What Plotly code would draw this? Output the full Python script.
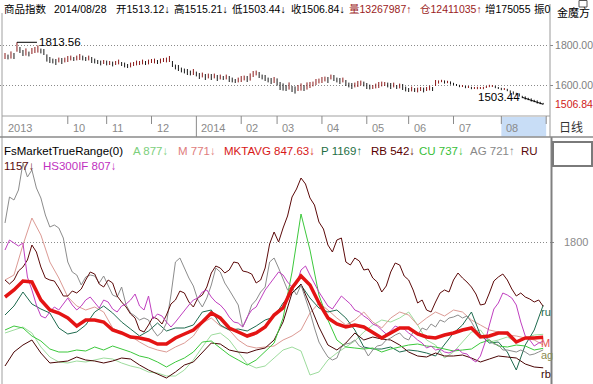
import plotly.graph_objects as go

W, H = 593, 384
FONT = "Liberation Sans, Noto Sans CJK SC, sans-serif"

# ---------------- data ----------------
month_labels = ["2013", "10", "11", "12", "2014", "02", "03", "04", "05", "06", "07", "08"]
month_start = [0, 21, 34, 49, 64, 79, 91, 106, 121, 135, 150, 166]

price_mid = [
    1745, 1740, 1750, 1745, 1790, 1775, 1760, 1765, 1755, 1770,
    1775, 1780, 1770, 1765, 1735, 1725, 1720, 1715, 1725, 1720,
    1725, 1730, 1735, 1730, 1735, 1740, 1735, 1730, 1735, 1725,
    1720, 1715, 1710, 1715, 1710, 1710, 1705, 1710, 1715, 1705,
    1700, 1695, 1700, 1705, 1710, 1710, 1715, 1710, 1715, 1720,
    1720, 1715, 1720, 1725, 1725, 1730, 1705, 1690, 1685, 1675,
    1670, 1665, 1660, 1665, 1655, 1645, 1650, 1640, 1645, 1640,
    1645, 1635, 1640, 1635, 1640, 1630, 1625, 1620, 1625, 1630,
    1635, 1630, 1640, 1655, 1660, 1650, 1640, 1635, 1625, 1620,
    1625, 1615, 1595, 1590, 1585, 1595, 1580, 1575, 1585, 1590,
    1585, 1595, 1600, 1605, 1615, 1620, 1625, 1630, 1625, 1640,
    1635, 1625, 1620, 1625, 1610, 1600, 1595, 1600, 1605, 1610,
    1605, 1595, 1590, 1590, 1595, 1600, 1605, 1605, 1600, 1595,
    1600, 1590, 1595, 1590, 1580, 1575, 1580, 1575, 1575, 1580,
    1575, 1580, 1585, 1580, 1610, 1615, 1620, 1615, 1615, 1610,
    1605, 1600, 1595, 1595, 1590, 1590, 1585, 1585, 1585, 1585,
    1585, 1590, 1595, 1595, 1590, 1585, 1580, 1580, 1575, 1565,
    1560, 1555, 1550, 1540, 1535, 1530, 1525, 1520, 1515, 1510,
    1507,
]
price_half = [
    15, 12, 18, 15, 23.56, 15, 15, 18, 12, 15,
    15, 18, 12, 15, 18, 15, 12, 15, 12, 15,
    12, 15, 12, 10, 12, 15, 12, 10, 12, 15,
    12, 10, 12, 10, 12, 10, 12, 10, 12, 10,
    12, 10, 12, 10, 12, 10, 12, 10, 12, 10,
    12, 10, 12, 10, 12, 15, 15, 12, 15, 12,
    12, 15, 12, 15, 12, 15, 12, 15, 12, 15,
    12, 15, 12, 10, 12, 15, 12, 10, 12, 15,
    12, 15, 18, 15, 12, 15, 12, 15, 12, 15,
    15, 18, 20, 18, 15, 18, 15, 18, 15, 18,
    15, 18, 15, 12, 15, 12, 15, 12, 15, 12,
    15, 12, 15, 12, 15, 12, 15, 12, 15, 12,
    12, 15, 12, 10, 12, 15, 12, 10, 12, 15,
    12, 10, 12, 15, 12, 10, 12, 10, 12, 10,
    12, 10, 12, 10, 15, 8, 6, 8, 6, 8,
    6, 5, 6, 5, 6, 5, 6, 5, 6, 5,
    6, 5, 6, 5, 6, 5, 6, 5, 6, 8,
    8, 6, 8, 6, 8, 6, 8, 6, 8, 6,
    3.56,
]
close_last = 1506.84

# indicator panel: coarse series sampled every 3 bars, fine series every 1.5 bars
ind_x = list(range(0, 181, 3))
ind_x_fine = [i * 1.5 for i in range(121)]

MKTAVG = [1250, 1320, 1410, 1400, 1220, 1120, 1090, 1040, 960, 1020,
          1020, 1000, 920, 890, 850, 840, 820, 780, 780, 840,
          880, 920, 1000, 1090, 1040, 940, 900, 860, 890, 950,
          1070, 1140, 1340, 1460, 1370, 1190, 1040, 980, 950, 970,
          950, 890, 840, 890, 940, 940, 880, 850, 840, 870,
          890, 920, 940, 850, 860, 890, 890, 800, 840, 840, 847.63]
RU = [1420, 1380, 1420, 1510, 1550, 1620, 1770, 1700, 1550, 1440,
      1420, 1410, 1340, 1260, 1260, 1310, 1290, 1330, 1420, 1500,
      1480, 1380, 1350, 1420, 1390, 1260, 1200, 1150, 1080, 1040,
      920, 900, 970, 1050, 1030, 980, 1070, 1180, 1220, 1310,
      1290, 1200, 1150, 1240, 1270, 1350, 1490, 1560, 1540, 1490,
      1520, 1600, 1590, 1510, 1500, 1480, 1390, 1420, 1540, 1780,
      1900, 1800, 1940, 2060, 2250, 2330, 2440, 2380, 2240, 2170,
      2000, 1930, 1770, 1700, 1820, 1840, 1600, 1570, 1640, 1610,
      1520, 1530, 1440, 1400, 1300, 1360, 1500, 1590, 1570, 1460,
      1420, 1320, 1190, 1220, 1120, 1100, 1200, 1290, 1320, 1300,
      1420, 1490, 1440, 1400, 1350, 1280, 1170, 1180, 1290, 1410,
      1450, 1480, 1420, 1330, 1260, 1290, 1250, 1230, 1200, 1220,
      1157]
RB = [560, 700, 770, 820, 690, 590, 600, 610, 650, 620,
      610, 590, 610, 640, 630, 570, 520, 480, 440, 500,
      570, 600, 700, 790, 780, 720, 700, 690, 720, 740,
      820, 1000, 1290, 1380, 1170, 950, 770, 720, 790, 890,
      820, 850, 830, 820, 770, 700, 660, 650, 690, 660,
      660, 670, 640, 600, 630, 660, 650, 640, 580, 550, 542]
P = [1070, 1160, 1300, 1180, 1130, 1090, 940, 880, 900, 970,
     1100, 1160, 1090, 1000, 930, 860, 910, 990, 910, 940,
     940, 970, 1100, 1120, 970, 920, 930, 910, 960, 1020,
     1050, 1190, 1290, 1370, 1240, 1140, 1100, 1120, 1040, 920,
     750, 730, 730, 750, 700, 720, 710, 690, 660, 770,
     890, 970, 1100, 870, 790, 800, 700, 520, 770, 920, 1169]
HS300IF = [1720, 1820, 1790, 1760, 1790, 1450, 1320, 1170, 1060, 1040,
           1100, 1150, 1120, 1180, 1240, 1170, 1120, 1160, 1220, 1250,
           1190, 1140, 1220, 1200, 1130, 1100, 1160, 1180, 1220, 1280,
           1160, 1120, 1260, 1030, 1080, 1060, 1000, 950, 1000, 1060,
           1120, 1170, 1220, 1240, 1300, 1320, 1250, 1200, 1170, 1120,
           1050, 1000, 990, 950, 1050, 1120, 1150, 1230, 1320, 1380,
           1440, 1500, 1470, 1400, 1350, 1380, 1520, 1560, 1470, 1380,
           1300, 1230, 1160, 1130, 1200, 1260, 1220, 1180, 1120, 1100,
           1060, 1030, 980, 960, 920, 880, 910, 960, 940, 930,
           890, 860, 820, 790, 740, 760, 720, 730, 700, 690,
           710, 730, 690, 680, 630, 600, 660, 790, 970, 1130,
           1190, 1290, 1270, 1240, 1170, 1000, 860, 820, 760, 790,
           807]
AG = [1990, 2250, 2220, 2320, 2590, 2450, 2520, 2340, 2240, 2070,
      1950, 1970, 1940, 1840, 1600, 1500, 1470, 1370, 1450, 1470,
      1460, 1390, 1460, 1370, 1270, 1250, 1350, 1170, 1090, 1060,
      1020, 1040, 1020, 920, 860, 900, 990, 1270, 1600, 1640,
      1540, 1440, 1360, 1220, 1150, 1240, 1370, 1540, 1500, 1390,
      1320, 1240, 1170, 950, 1040, 1170, 1220, 1300, 1350, 1600,
      1640, 1540, 1420, 1320, 1350, 1270, 1370, 1240, 1100, 940,
      800, 720, 650, 620, 640, 750, 780, 790, 820, 760,
      740, 660, 720, 760, 770, 820, 840, 870, 890, 840,
      820, 900, 870, 940, 920, 980, 950, 1020, 1000, 1040,
      1050, 1070, 1040, 1060, 1000, 920, 870, 860, 820, 780,
      770, 720, 720, 710, 700, 720, 700, 670, 680, 700,
      721]
M = [1420, 1470, 1770, 2040, 1870, 1600, 1440, 1250, 1160, 1120,
     1150, 1100, 940, 890, 860, 800, 750, 720, 700, 750,
     790, 860, 990, 1040, 960, 920, 820, 760, 740, 750,
     760, 820, 860, 920, 1090, 1190, 1120, 1040, 970, 1020,
     1100, 1000, 940, 1040, 1100, 1070, 970, 1040, 1100, 1060,
     1120, 1100, 1020, 970, 920, 900, 870, 860, 840, 820, 771]
CU = [920, 960, 940, 860, 810, 730, 700, 700, 720, 710,
      750, 720, 760, 730, 700, 660, 640, 600, 550, 600,
      640, 700, 800, 810, 740, 670, 620, 570, 620, 700,
      790, 1040, 1500, 2080, 1720, 1270, 1020, 820, 750, 740,
      730, 740, 700, 730, 750, 770, 780, 760, 750, 730,
      710, 720, 730, 790, 820, 760, 750, 770, 760, 720, 737]
A = [890, 920, 950, 890, 750, 650, 600, 590, 610, 600,
     620, 640, 630, 590, 560, 540, 500, 490, 460, 460,
     520, 620, 750, 870, 890, 820, 700, 580, 540, 560,
     640, 720, 750, 710, 470, 500, 620, 690, 750, 810,
     900, 970, 1020, 1000, 1040, 1100, 970, 820, 770, 640,
     700, 800, 900, 920, 800, 820, 850, 800, 840, 870, 877]

# ---------------- helpers ----------------
def PX(x):
    return x / W


def PY(y):
    return 1 - y / H


GRAY = "#8c8c8c"
fig = go.Figure()

# ---------------- price bars ----------------
price_high = [m + h for m, h in zip(price_mid, price_half)]
price_low = [m - h for m, h in zip(price_mid, price_half)]
up_x, up_y, dn_x, dn_y = [], [], [], []
for i, (lo, hi) in enumerate(zip(price_low, price_high)):
    rising = i == 0 or price_mid[i] >= price_mid[i - 1]
    tx, ty = (up_x, up_y) if rising else (dn_x, dn_y)
    tx += [i, i, None]
    ty += [lo, hi, None]
fig.add_trace(go.Scatter(x=up_x, y=up_y, mode="lines", line=dict(color="#8b1a1a", width=1),
                         xaxis="x", yaxis="y", hoverinfo="skip"))
fig.add_trace(go.Scatter(x=dn_x, y=dn_y, mode="lines", line=dict(color="#1a1a1a", width=1),
                         xaxis="x", yaxis="y", hoverinfo="skip"))

# ---------------- indicator lines ----------------
series = [
    ("A", ind_x, A, "#9ddc9d", 1),
    ("M", ind_x, M, "#dc9a94", 1),
    ("P", ind_x, P, "#1f6b4f", 1),
    ("RB", ind_x, RB, "#4a0505", 1),
    ("CU", ind_x, CU, "#3cc83c", 1),
    ("AG", ind_x_fine, AG, "#8c8c8c", 1),
    ("RU", ind_x_fine, RU, "#5c0a0a", 1),
    ("HS300IF", ind_x_fine, HS300IF, "#c040c0", 1),
    ("MKTAVG", ind_x, MKTAVG, "#e41414", 3.5),
]
for name, xs, vals, col, wd in series:
    fig.add_trace(go.Scatter(x=xs, y=vals, mode="lines", name=name,
                             line=dict(color=col, width=wd), xaxis="x2", yaxis="y2"))

n_bars = len(price_mid)
xr = [-5 / 2.99, (549 - 5) / 2.99]

shapes = []
annotations = []


def pline(x0, y0, x1, y1, color=GRAY, width=1):
    shapes.append(dict(type="line", xref="paper", yref="paper", x0=PX(x0), y0=PY(y0),
                       x1=PX(x1), y1=PY(y1), line=dict(color=color, width=width), layer="above"))


# highlight of current month
shapes.append(dict(type="rect", xref="x", yref="paper", x0=month_start[-1], x1=n_bars,
                   y0=PY(136.5), y1=PY(117), fillcolor="#c8ddf6", line=dict(width=0), layer="below"))
pline(2, 13, 2, 384, "#a0a0a0")
pline(550, 4, 550, 137, "#9a9a9a")
pline(551.5, 137, 551.5, 384, "#808080", 2)
pline(2, 116, 550, 116, "#a0a0a0")
pline(0, 137, 593, 137, "#8a8a8a", 1.5)
shapes.append(dict(type="rect", xref="paper", yref="paper", x0=PX(553), x1=PX(592), y0=PY(166),
                   y1=PY(142), line=dict(color="#7a7a7a", width=2)))
shapes.append(dict(type="rect", xref="paper", yref="paper", x0=PX(579), x1=PX(587), y0=PY(7),
                   y1=PY(0.5), line=dict(color="#555", width=1)))

# month ticks and labels
for lab, idx in zip(month_labels, month_start):
    if idx > 0:
        y_end = 137 if len(lab) == 4 else 124
        shapes.append(dict(type="line", xref="x", yref="paper", x0=idx, x1=idx, y0=PY(116),
                           y1=PY(y_end), line=dict(color="#8a8a8a", width=1)))
    annotations.append(dict(x=idx, y=PY(127.5), xref="x", yref="paper", text=lab, showarrow=False,
                            xanchor="left", yanchor="middle", xshift=3 if idx > 0 else 1,
                            font=dict(family=FONT, size=11, color="#8a8a8a")))
shapes.append(dict(type="line", xref="x", yref="paper", x0=n_bars, x1=n_bars, y0=PY(116),
                   y1=PY(124), line=dict(color="#8a8a8a", width=1)))

# header
header = [
    (2, "商品指数", "#000"), (52, "2014/08/28", "#000"), (114, "开1513.12↓", "#000"),
    (172, "高1515.21↓", "#000"), (230, "低1503.44↓", "#000"), (289, "收1506.84↓", "#000"),
    (347, "量13267987↑", "#9b1c1c"), (418, "仓12411035↑", "#9b1c1c"),
    (483, "增175055", "#000"), (532, "振0", "#000"),
]
for x, t, c in header:
    annotations.append(dict(x=PX(x), y=PY(9), xref="paper", yref="paper", text=t, showarrow=False,
                            xanchor="left", yanchor="middle", font=dict(family=FONT, size=10.5, color=c)))
annotations.append(dict(x=PX(555), y=PY(12), xref="paper", yref="paper", text="金魔方", showarrow=False,
                        xanchor="left", yanchor="middle", font=dict(family=FONT, size=11, color="#000")))
annotations.append(dict(x=PX(571), y=PY(127.5), xref="paper", yref="paper", text="日线", showarrow=False,
                        xanchor="center", yanchor="middle", font=dict(family=FONT, size=12, color="#333")))

# indicator legend text
legend_row1 = [
    (2, "FsMarketTrueRange(0)", "#000"), (131, "A 877↓", "#7ccf7c"), (176, "M 771↓", "#e07c7c"),
    (222, "MKTAVG 847.63↓", "#d81818"), (319, "P 1169↑", "#1e6e44"), (369, "RB 542↓", "#5a0000"),
    (417, "CU 737↓", "#38c038"), (468, "AG 721↑", "#888888"), (519, "RU", "#5a0a0a"),
]
legend_row2 = [(2, "1157↓", "#5a0a0a"), (41, "HS300IF 807↓", "#c030c0")]
for row, yy in ((legend_row1, 151), (legend_row2, 166)):
    for x, t, c in row:
        annotations.append(dict(x=PX(x), y=PY(yy), xref="paper", yref="paper", text=t, showarrow=False,
                                xanchor="left", yanchor="middle", font=dict(family=FONT, size=11.5, color=c)))

for t, yy, c in (("ru", 312, "#1f6b4f"), ("M", 343, "#e05050"), ("ag", 355, "#8a8a50"), ("rb", 374, "#3a0a0a")):
    annotations.append(dict(x=PX(539), y=PY(yy), xref="paper", yref="paper", text=t, showarrow=False,
                            xanchor="left", yanchor="middle", font=dict(family=FONT, size=11, color=c)))

# price high / low markers
peak_i = max(range(n_bars), key=lambda i: price_high[i])
low_i = min(range(n_bars), key=lambda i: price_low[i])
annotations.append(dict(x=peak_i, y=price_high[peak_i], xref="x", yref="y", text=f"{price_high[peak_i]:.2f}",
                        showarrow=True, arrowhead=0, arrowwidth=1, arrowcolor="#000", ax=20, ay=0,
                        xanchor="left", yanchor="middle", font=dict(family=FONT, size=11.5, color="#000")))
annotations.append(dict(x=low_i, y=price_low[low_i], xref="x", yref="y", text=f"{price_low[low_i]:.2f}",
                        showarrow=True, arrowhead=0, arrowwidth=1, arrowcolor="#000", ax=-21, ay=-7,
                        xanchor="right", yanchor="middle", font=dict(family=FONT, size=11.5, color="#000")))
annotations.append(dict(x=PX(553), y=close_last, xref="paper", yref="y", text=f"{close_last:.2f}",
                        showarrow=False, xanchor="left", yanchor="middle",
                        font=dict(family=FONT, size=10.5, color="#d02020")))
annotations.append(dict(x=PX(562), y=1800, xref="paper", yref="y2", text="1800", showarrow=False,
                        xanchor="left", yanchor="middle", font=dict(family=FONT, size=11, color="#8a8a8a")))

axis_common = dict(showgrid=False, zeroline=False, showticklabels=False, showline=False,
                   ticks="", range=xr, domain=[0, PX(549)], automargin=False, fixedrange=True)

fig.update_layout(
    template="none",
    width=W, height=H, margin=dict(l=0, r=0, t=0, b=0),
    paper_bgcolor="white", plot_bgcolor="white", showlegend=False,
    font=dict(family=FONT, size=11),
    xaxis=dict(anchor="y", **axis_common),
    xaxis2=dict(anchor="y2", matches="x", **axis_common),
    yaxis=dict(domain=[PY(115), PY(20)], range=[1450, 1925], side="right", anchor="x",
               tickvals=[1600, 1800], ticktext=["1600.00", "1800.00"], showgrid=True,
               gridcolor="#8a8a8a", griddash="1px,2px", gridwidth=1, ticks="outside", ticklen=3,
               tickcolor="#8a8a8a", tickfont=dict(family=FONT, size=10.5, color="#808080"),
               zeroline=False, showline=False, automargin=False, fixedrange=True),
    yaxis2=dict(domain=[0, PY(137)], range=[380, 2850], side="right", anchor="x2",
                tickvals=[1800], showticklabels=False, showgrid=True, gridcolor="#8a8a8a",
                griddash="1px,2px", gridwidth=1, ticks="outside", ticklen=4, tickcolor="#8a8a8a",
                zeroline=False, showline=False, automargin=False, fixedrange=True),
    shapes=shapes,
    annotations=annotations,
)

fig.write_html("out.html", config={"displayModeBar": False},
               post_script="document.body.style.margin='0px';")
